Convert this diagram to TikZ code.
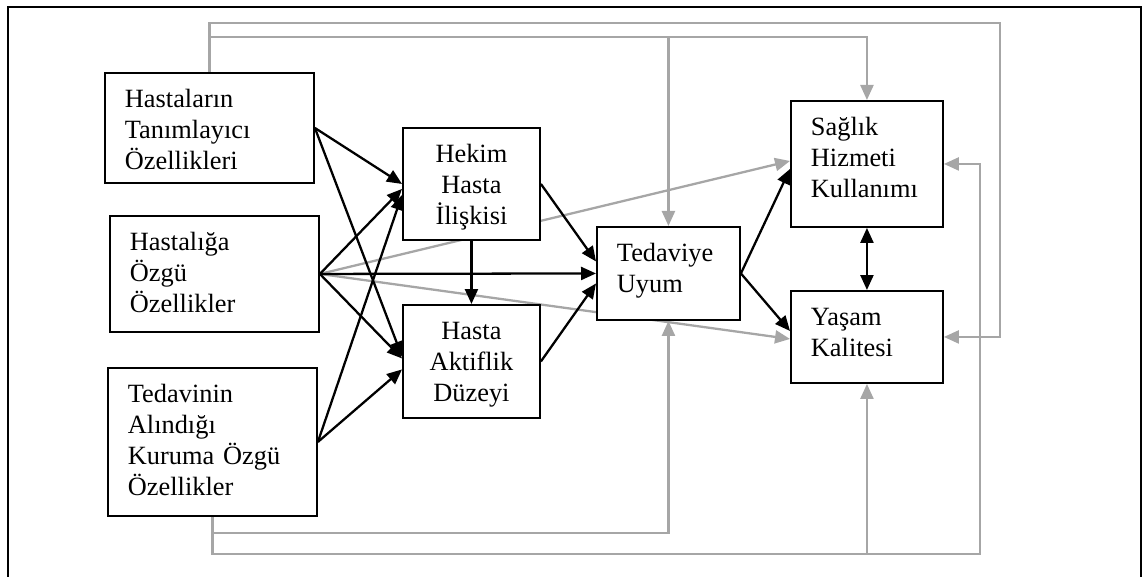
\documentclass[tikz,border=0pt]{standalone}
\usepackage{fontspec}
\setmainfont{Liberation Serif}
\usetikzlibrary{arrows.meta,calc,backgrounds}
\definecolor{linegray}{RGB}{166,166,166}
\begin{document}
\begin{tikzpicture}[x=0.02cm,y=-0.02cm,
  >={Triangle[length=0.3cm,width=0.26cm]},
  box/.style={draw=black,fill=white,line width=1.1pt,anchor=north west,inner xsep=0.4cm,inner ysep=0pt,text height=0.7cm,align=left,font=\fontsize{15}{17.6}\selectfont},
  blackarrow/.style={->,line width=1.3pt},
  grayarrow/.style={->,draw=linegray,line width=1.3pt}]
\useasboundingbox (0,0) rectangle (1143,577);
\draw[line width=0.8pt] (8,577) |- (1141,7) -- (1141,577);
\node[box,text width=3.38cm,text depth=1.5cm] (N01) at (104,72) {Hastaların\\Tanımlayıcı\\Özellikleri};
\node[box,text width=3.38cm,text depth=1.62cm] (N02) at (109,215) {Hastalığa\\Özgü\\Özellikler};
\node[box,text width=3.38cm,text depth=2.26cm] (N03) at (107,367) {Tedavinin\\Alındığı\\Kuruma Özgü\\Özellikler};
\node[box,align=center,text width=1.94cm,text depth=1.54cm] (N04) at (402,127) {Hekim\\Hasta\\İlişkisi};
\node[box,align=center,text width=1.94cm,text depth=1.56cm] (N05) at (402,304) {Hasta\\Aktiflik\\Düzeyi};
\node[box,text width=2.06cm,text depth=1.16cm] (N06) at (596,226) {Tedaviye\\Uyum};
\node[box,text width=2.24cm,text depth=1.82cm] (N07) at (790,100) {Sağlık\\Hizmeti\\Kullanımı};
\node[box,text width=2.24cm,text depth=1.14cm] (N08) at (790,290) {Yaşam\\Kalitesi};
\coordinate (C01) at (1000,23);
\coordinate (C02) at (0,37);
\coordinate (C03) at (980,554);
\coordinate (C04) at (0,533);
\begin{pgfonlayer}{background}
\draw[grayarrow] (N01.north) |- (C01) |- (N08.east);
\draw[grayarrow] (N01.north |- C02) -| (N07.north);
\draw[grayarrow] (N06.north |- C02) -- (N06.north);
\draw[grayarrow] (N03.south) |- (C03) |- (N07.east);
\draw[grayarrow] (N03.south |- C04) -| (N06.south);
\draw[grayarrow] (N08.south |- C03) -- (N08.south);
\draw[grayarrow] (N02.east) -- ($(N07.west)+(0,-3)$);
\draw[grayarrow] (N02.east) -- ($(N08.west)+(0,2)$);
\end{pgfonlayer}
\draw[blackarrow] (N01.east) -- (N04.west);
\draw[blackarrow] (N01.east) -- ($(N05.west)+(0,-5)$);
\draw[blackarrow] (N02.east) -- ($(N04.west)+(0,5)$);
\draw[blackarrow] (N02.east) -- (N06.west);
\draw[blackarrow] (N02.east) -- ($(N05.west)+(0,-3)$);
\draw[blackarrow] (N03.east) -- ($(N04.west)+(0,11)$);
\draw[blackarrow] (N03.east) -- ($(N05.west)+(0,8)$);
\draw[blackarrow] (N04.south) -- (N05.north);
\draw[blackarrow] (N04.east) -- ($(N06.west)+(0,-12)$);
\draw[blackarrow] (N05.east) -- ($(N06.west)+(0,10)$);
\draw[blackarrow] (N06.east) -- ($(N07.west)+(0,5)$);
\draw[blackarrow] (N06.east) -- ($(N08.west)+(0,-6)$);
\draw[blackarrow,<->] (N07.south) -- (N08.north);
\end{tikzpicture}
\end{document}
